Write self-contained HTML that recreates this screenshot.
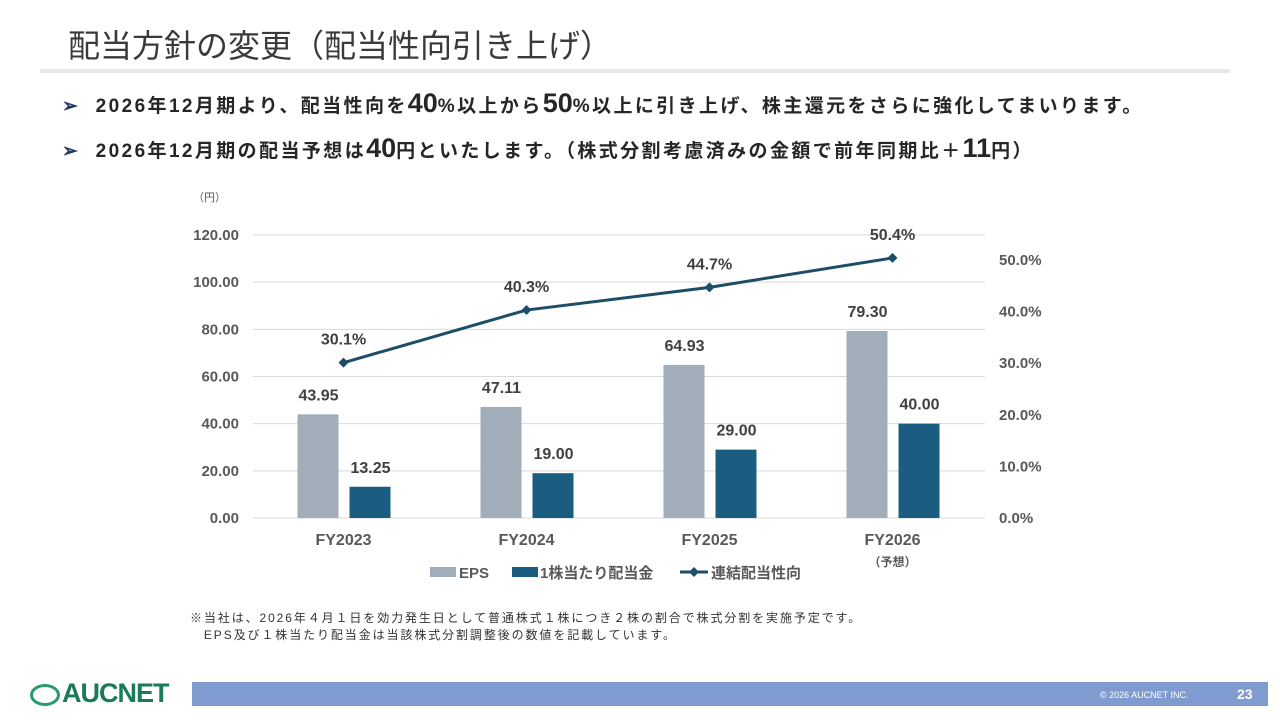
<!DOCTYPE html>
<html><head><meta charset="utf-8"><style>
body{margin:0;width:1280px;height:720px;background:#fff;position:relative;overflow:hidden;font-family:"Liberation Sans","Noto Sans CJK JP",sans-serif;color:#262626}
.t{position:absolute;white-space:nowrap}
</style></head><body>
<div class="t" style="left:68px;top:21px;font-size:32px;color:#3a3a3a;letter-spacing:0px">配当方針の変更（配当性向引き上げ）</div>
<div style="position:absolute;left:40px;top:69px;width:1190px;height:4px;background:#e8e8e8"></div>
<div class="t" style="left:62px;top:88px;font-size:19px;font-weight:bold;letter-spacing:2.4px"><span style="color:#1f3864">➢</span>&nbsp; 2026年12月期より、配当性向を<span style="font-size:27px;letter-spacing:0">40</span>%以上から<span style="font-size:27px;letter-spacing:0">50</span>%以上に引き上げ、株主還元をさらに強化してまいります。</div>
<div class="t" style="left:62px;top:133px;font-size:19px;font-weight:bold;letter-spacing:2.4px"><span style="color:#1f3864">➢</span>&nbsp; 2026年12月期の配当予想は<span style="font-size:27px;letter-spacing:0">40</span>円といたします。（株式分割考慮済みの金額で前年同期比＋<span style="font-size:27px;letter-spacing:0">11</span>円）</div>
<svg id="chart" width="1280" height="720" style="position:absolute;left:0;top:0" font-family="Liberation Sans, Noto Sans CJK JP, sans-serif"></svg>
<div class="t" style="left:190px;top:610px;font-size:12px;line-height:17px;color:#333;letter-spacing:1.9px">※当社は、2026年４月１日を効力発生日として普通株式１株につき２株の割合で株式分割を実施予定です。<br>　EPS及び１株当たり配当金は当該株式分割調整後の数値を記載しています。</div>
<div class="t" style="left:30px;top:678px;font-size:27px;font-weight:bold;color:#1a7a5a;letter-spacing:-1px"><span style="display:inline-block;width:30px;height:22px;border:3px solid #2a9a6a;border-radius:50%;vertical-align:-4px;margin-right:2px;box-sizing:border-box"></span>AUCNET</div>
<div style="position:absolute;left:192px;top:682px;width:1076px;height:24px;background:#7f9bd0"></div>
<div class="t" style="left:1100px;top:690px;font-size:9px;color:#fff">© 2026 AUCNET INC.</div>
<div class="t" style="left:1237px;top:686px;font-size:14px;font-weight:bold;color:#fff">23</div>
<script>
const categories=["FY2023","FY2024","FY2025","FY2026"];
const eps=[43.95,47.11,64.93,79.30];
const dps=[13.25,19.00,29.00,40.00];
const payout=[30.1,40.3,44.7,50.4];
const leftTicks=[0,20,40,60,80,100,120];
const rightTicks=[0,10,20,30,40,50];
const svg=document.getElementById('chart');
const NS='http://www.w3.org/2000/svg';
const x0=253,x1=985,yZero=518,yTop=235;
const yL=v=>yZero-(v/120)*(yZero-yTop);
const yR=v=>yZero-(v/50)*(yZero-260);
const band=(x1-x0)/categories.length;
const cx=i=>x0+band*(i+0.5)-1;
function mk(tag,attrs,text){const e=document.createElementNS(NS,tag);for(const k in attrs)e.setAttribute(k,attrs[k]);if(text!==undefined)e.textContent=text;svg.appendChild(e);return e;}
leftTicks.forEach(v=>{
 const g=mk('line',{x1:x0,x2:x1,y1:yL(v),y2:yL(v),stroke:'#d9d9d9','stroke-width':1});
 
 const t=mk('text',{x:239,y:yL(v)+5,'text-anchor':'end','font-size':15,'font-weight':'bold',fill:'#595959'},v.toFixed(2));
 
});
rightTicks.forEach(v=>{
 const t=mk('text',{x:999,y:yR(v)+5,'font-size':15,'font-weight':'bold',fill:'#595959'},v.toFixed(1)+'%');
 
});
const u=mk('text',{x:193,y:201,'font-size':11,fill:'#595959'},'（円）');

categories.forEach((c,i)=>{
 const c1=cx(i);
 const b1=mk('rect',{x:c1-46,y:yL(eps[i]),width:41,height:yZero-yL(eps[i]),fill:'#a1aeb9'});
 
 const b2=mk('rect',{x:c1+6,y:yL(dps[i]),width:41,height:yZero-yL(dps[i]),fill:'#1b5d80'});
 
 const l1=mk('text',{x:c1-25,y:yL(eps[i])-14,'text-anchor':'middle','font-size':16,'font-weight':'bold',fill:'#404040'},eps[i].toFixed(2));
 
 const l2=mk('text',{x:c1+27,y:yL(dps[i])-14,'text-anchor':'middle','font-size':16,'font-weight':'bold',fill:'#404040'},dps[i].toFixed(2));
 
 const xl=mk('text',{x:c1,y:545,'text-anchor':'middle','font-size':16,'font-weight':'bold',fill:'#595959'},c);
 
});
const fc=mk('text',{x:cx(3),y:566,'text-anchor':'middle','font-size':12,'font-weight':'bold',fill:'#595959'},'（予想）');

const pl=mk('polyline',{points:payout.map((v,i)=>cx(i)+','+yR(v)).join(' '),fill:'none',stroke:'#1d4e67','stroke-width':3});

payout.forEach((v,i)=>{
 const x=cx(i),y=yR(v);
 const m=mk('polygon',{points:`${x},${y-5} ${x+5},${y} ${x},${y+5} ${x-5},${y}`,fill:'#1d4e67'});
 
 const t=mk('text',{x:x,y:y-18,'text-anchor':'middle','font-size':16,'font-weight':'bold',fill:'#404040'},v.toFixed(1)+'%');
 
});
const lg1=mk('rect',{x:430,y:567,width:26,height:10,fill:'#a1aeb9'});

const lt1=mk('text',{x:459,y:578,'font-size':15,'font-weight':'bold',fill:'#595959'},'EPS');

const lg2=mk('rect',{x:512,y:567,width:26,height:10,fill:'#1b5d80'});

const lt2=mk('text',{x:540,y:578,'font-size':15,'font-weight':'bold',fill:'#595959'},'1株当たり配当金');

const lg3=mk('line',{x1:680,x2:708,y1:572,y2:572,stroke:'#1d4e67','stroke-width':3});

const lg4=mk('polygon',{points:'694,567 699,572 694,577 689,572',fill:'#1d4e67'});

const lt3=mk('text',{x:711,y:578,'font-size':15,'font-weight':'bold',fill:'#595959'},'連結配当性向');

</script>
</body></html>
